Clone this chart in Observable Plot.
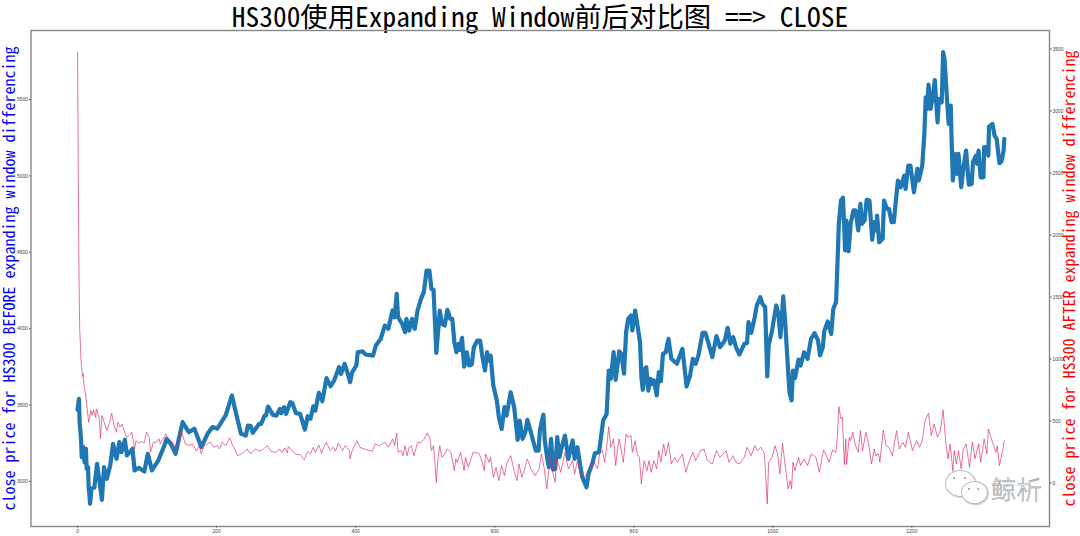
<!DOCTYPE html>
<html>
<head>
<meta charset="utf-8">
<script src="https://cdn.jsdelivr.net/npm/d3@7"></script>
<script src="https://cdn.jsdelivr.net/npm/@observablehq/plot@0.6"></script>
<style>
html,body{margin:0;padding:0;background:#fff;}
body{width:1080px;height:536px;position:relative;}
#title{height:29px;line-height:30px;text-align:center;font-family:"Noto Sans Mono CJK SC","Liberation Mono","Noto Sans CJK SC",monospace;font-size:27.4px;color:#000;white-space:pre;}
#chart svg{display:block;}
.wm{position:absolute;background:#fff;border:1px solid #bbb;border-radius:50%;box-shadow:1px 1px 1px #ccc;}
.eye{position:absolute;width:2px;height:2px;border-radius:50%;background:#999;}
#wmtext{position:absolute;left:991px;top:473px;font-family:"Noto Sans CJK SC",sans-serif;font-size:25.5px;font-weight:300;line-height:30px;color:#fff;-webkit-text-stroke:0.6px #999;}
</style>
</head>
<body>
<div id="title">HS300使用Expanding Window前后对比图 ==&gt; CLOSE</div>
<div id="chart"></div>
<div class="wm" style="left:945px;top:470px;width:29px;height:25px;"></div>
<div class="wm" style="left:961px;top:481px;width:25px;height:21px;"></div>
<div class="eye" style="left:953px;top:477px;"></div>
<div class="eye" style="left:964px;top:477px;"></div>
<div class="eye" style="left:968px;top:488px;"></div>
<div class="eye" style="left:977px;top:488px;"></div>
<div id="wmtext">鲸析</div>
<script>
const titleText = "HS300使用Expanding Window前后对比图 ==> CLOSE";
const labelLeft = "close price for HS300 BEFORE expanding window differencing";
const labelRight = "close price for HS300 AFTER expanding window differencing";

const xDomain = [-67, 1398];
const leftDomain = [2705, 5952];
const rightDomain = [-350, 3649];
const xTicks = [0, 200, 400, 600, 800, 1000, 1200];
const leftTicks = [3000, 3500, 4000, 4500, 5000, 5500];
const rightTicks = [0, 500, 1000, 1500, 2000, 2500, 3000, 3500];

const beforeIndex = [0,1,2,3,4,5,6,8,10,12,13,15,16,18,20,24,28,32,35,38,42,47,51,56,60,63,68,71,79,82,88,96,101,107,116,124,128,134,141,151,160,168,178,187,194,201,213,222,227,235,
242,245,249,252,261,264,269,271,274,281,286,291,293,297,300,306,309,314,320,327,331,335,339,342,347,352,358,364,369,376,379,384,388,392,395,401,403,410,414,425,429,436,442,447,453,456,459,461,467,471,473,477,481,485,489,494,498,502,506,509,512,
516,521,524,528,532,536,539,542,545,548,550,553,556,560,563,567,570,575,579,582,586,589,592,594,598,603,606,610,614,617,623,628,633,636,640,644,647,652,659,663,665,668,670,672,676,678,681,684,687,690,693,697,701,706,712,715,719,723,726,732,735,741,744,750,756,761,
764,767,771,774,779,782,786,789,792,796,798,802,805,809,811,813,816,818,821,824,827,829,833,836,839,842,846,850,854,862,870,876,881,885,889,893,899,903,907,913,919,924,931,935,939,943,947,952,959,963,965,969,974,977,982,985,989,992,994,999,1002,1005,1008,1011,1015,1018,1022,1024,1027,1029,1032,1037,1040,1045,1050,1055,1060,1065,1068,1072,1074,1079,1084,
1087,1091,1093,1095,1098,1101,1104,1106,1109,1112,1116,1119,1123,1126,1128,1132,1135,1139,1143,1146,1149,1150,1153,1158,1160,1164,1167,1171,1174,1178,1180,1184,
1189,1191,1195,1198,1203,1208,1210,1215,1218,1220,1222,1224,1227,1230,1233,1237,1239,1243,1245,1247,1251,1253,1256,1257,1259,1262,1265,1267,1271,1274,1278,1282,1286,1288,1292,1294,1296,1299,1303,1304,1308,1310,1311,1316,1319,1322,1326,1329,1332,1333];
const beforeClose = [3469,3508,3541,3377,3334,3268,3159,3225,3126,3214,3083,3094,2963,2854,2952,2958,3115,2985,2880,3094,3017,3105,3246,3148,3257,3192,3273,3170,3214,3072,3089,3065,3181,3072,3137,3225,3279,3246,3181,3388,3323,3345,3225,3312,3356,3345,3432,3563,3465,3312,
3300,3366,3362,3318,3377,3377,3431,3431,3490,3436,3431,3475,3447,3486,3442,3519,3512,3447,3442,3340,3427,3410,3492,3464,3580,3525,3676,3623,3660,3748,3704,3770,3715,3650,3715,3759,3846,3852,3831,3824,3890,3933,4021,3999,4119,4075,4228,4075,4031,3977,4064,3988,4064,3999,4119,4195,4239,4381,4381,4260,4255,
3842,4119,4031,4021,4123,4064,4064,3911,3846,3900,3861,3940,3752,3846,3759,3765,3879,3922,3922,3824,3726,3846,3791,3824,3628,3530,3420,3344,3486,3431,3584,3486,3272,3399,3279,3322,3403,3322,3202,3202,3333,3399,3438,3268,3137,3093,3279,3078,3082,3290,3159,3235,3300,3148,3268,3148,3224,3104,3028,2962,3050,3126,3185,3191,3399,3442,
3726,3672,3846,3665,3851,3835,3705,3977,4064,4086,3988,4119,4032,3912,3683,3600,3737,3748,3595,3672,3639,3661,3563,3715,3656,3835,3846,3934,3803,3770,3868,3622,3694,3803,3770,3825,3973,3973,3912,3814,3951,3879,3923,4006,3901,3945,3879,3831,3901,3907,4043,3973,4075,4152,4206,4163,4141,3687,3890,3988,4075,4152,4097,3945,4211,4032,3726,3584,3530,3726,3676,3798,3759,3846,3803,3934,3971,3923,3825,3879,3984,4047,3966,
4130,4174,4424,4686,4839,4857,4512,4708,4507,4686,4774,4774,4643,4817,4686,4708,4843,4839,4582,4697,4643,4741,4566,4588,4839,4785,4785,4697,4697,4883,4970,4926,
5002,4915,5068,5068,4893,5046,4970,5068,5275,5515,5439,5598,5439,5515,5628,5351,5504,5482,5810,5766,5471,5340,5461,5264,4970,5144,5013,5144,4926,5046,5166,4943,4948,5090,5133,5079,5166,4991,4991,5188,5188,5133,5323,5340,5264,5242,5083,5096,5166,5242];

const afterIndex = [0,1,2,3,5,7,8,9,12,16,19,21,23,26,27,31,33,35,39,42,46,49,52,56,58,61,64,67,70,74,78,82,84,88,93,96,99,103,105,109,114,117,119,123,127,130,134,138,141,146,149,152,155,160,165,171,175,178,182,187,191,196,201,204,208,213,219,222,227,230,
234,239,244,249,256,261,266,273,278,285,290,294,298,302,303,309,314,320,326,331,335,339,342,347,351,354,358,363,368,371,375,381,385,391,392,395,402,406,412,424,428,434,442,447,453,456,459,461,465,468,471,474,477,480,484,489,494,499,503,507,509,
512,516,518,521,524,528,532,537,542,544,546,551,556,558,562,569,573,578,582,585,587,592,594,598,602,606,610,614,617,623,628,632,635,639,643,647,652,658,664,667,671,675,677,681,684,687,689,695,701,706,712,715,719,724,730,734,737,743,748,751,
755,758,761,764,767,771,774,777,779,785,789,792,796,798,802,805,808,811,813,815,819,822,825,829,833,836,839,843,846,850,854,859,863,870,875,880,885,889,896,901,906,913,919,924,933,937,943,947,952,959,963,969,974,978,983,988,992,994,999,1003,1007,1010,1014,1019,1022,1025,1027,1029,1032,1037,1040,1045,1050,1055,1062,1067,
1073,1076,1081,1086,1091,1093,1095,1098,1100,1103,1105,1106,1110,1112,1115,1119,1123,1126,1129,1134,1138,1142,1146,1148,1152,1154,1159,1163,1167,1172,1178,1182,1187,1191,1195,1201,1207,1211,1215,1219,1224,1228,1232,1237,1241,1245,1249,1252,1255,1259,1261,1264,1267,1271,1274,1278,1283,1287,1291,1296,1299,1304,1308,1310,1316,1321,1323,1326,1331,1333];
const afterClose = [3474,2500,1700,1256,988,860,883,800,693,491,585,545,590,531,598,531,357,545,477,424,491,564,477,410,491,451,477,424,370,383,410,276,343,322,335,324,410,370,249,330,330,357,316,357,397,357,343,316,276,316,424,370,316,303,316,257,303,236,303,316,330,289,303,276,330,303,365,316,262,222,
230,248,275,235,275,257,267,302,256,248,275,248,283,243,294,262,230,230,187,256,235,289,248,307,240,289,329,262,289,256,321,262,302,262,195,262,342,289,275,256,316,302,329,289,356,302,404,248,262,221,302,221,289,302,221,329,329,356,404,356,262,
302,6,181,302,208,235,275,248,100,195,168,248,100,208,127,248,248,235,168,100,235,168,208,47,127,20,141,60,154,221,100,20,154,47,114,195,114,60,114,235,127,-47,74,221,74,6,208,87,248,114,181,74,181,47,47,100,127,168,114,248,
262,168,289,455,289,356,141,289,356,168,396,369,383,248,342,235,208,-7,100,181,100,181,87,181,114,262,168,315,221,329,154,208,168,235,87,181,248,181,262,275,181,154,262,208,262,168,221,168,154,208,289,221,302,262,289,235,-168,168,208,302,235,74,321,87,-47,20,-47,168,100,208,141,195,141,235,208,87,
267,235,168,267,248,396,617,517,531,149,356,149,369,342,410,302,248,423,262,410,315,154,275,221,235,168,428,302,289,221,423,275,329,289,410,262,342,289,342,504,563,383,477,369,423,590,316,195,316,95,262,154,262,114,275,316,127,329,195,316,168,356,235,436,329,248,302,141,275,342];

const before = beforeIndex.map((x, i) => ({x, y: beforeClose[i]}));
const after = afterIndex.map((x, i) => ({x, y: afterClose[i]}));
const toLeft = d3.scaleLinear(rightDomain, leftDomain);
const mono = '"Noto Sans Mono CJK SC","Liberation Mono",monospace';

const plot = Plot.plot({
  width: 1080,
  height: 507,
  marginTop: 1,
  marginBottom: 10,
  marginLeft: 30.5,
  marginRight: 31,
  style: {background: "#fff", fontFamily: '"Liberation Sans",sans-serif'},
  x: {domain: xDomain, axis: null},
  y: {domain: leftDomain, axis: null},
  marks: [
    Plot.line(before, {x: "x", y: "y", stroke: "#1f77b4", strokeWidth: 4.2, strokeLinejoin: "round"}),
    Plot.line(after, {x: "x", y: d => toLeft(d.y), stroke: "#dc2a62", strokeWidth: 1, strokeOpacity: 0.66}),
    Plot.frame({stroke: "#888", strokeWidth: 1.4}),
    Plot.axisX({ticks: xTicks, tickSize: 1.5, tickPadding: 1.5, fontSize: 5, label: null, color: "#444", tickFormat: d => String(d)}),
    Plot.axisY({anchor: "left", ticks: leftTicks, tickSize: 1.5, tickPadding: 1.5, fontSize: 5, label: null, color: "#444", tickFormat: d => String(d)}),
    Plot.axisY({anchor: "right", ticks: rightTicks.map(v => toLeft(v)), tickSize: 1.5, tickPadding: 1.5, fontSize: 5, label: null, color: "#444",
      tickFormat: d => String(Math.round(toLeft.invert(d)))}),
    Plot.text([labelLeft], {text: d => d, frameAnchor: "middle", rotate: -90, dx: -530, dy: 0, fill: "#0000ff", fontSize: 16, fontFamily: mono}),
    Plot.text([labelRight], {text: d => d, frameAnchor: "middle", rotate: -90, dx: 529.5, dy: 0, fill: "#ff0000", fontSize: 16, fontFamily: mono})
  ]
});
document.getElementById("chart").appendChild(plot);
</script>
</body>
</html>
